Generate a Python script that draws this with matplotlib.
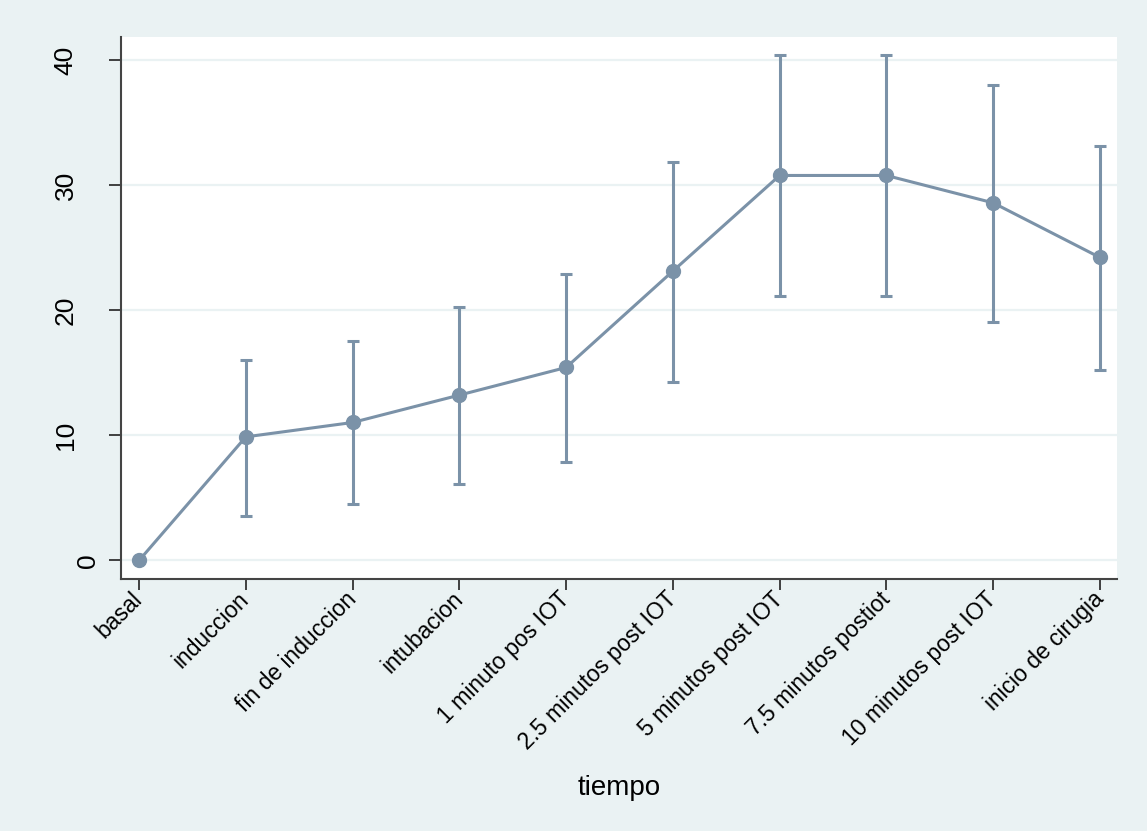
import matplotlib
matplotlib.use("Agg")
import matplotlib.pyplot as plt
import matplotlib.transforms as mtransforms
import numpy as np

plt.rcParams['font.family'] = ['Liberation Sans', 'DejaVu Sans']

categories = ['basal', 'induccion', 'fin de induccion', 'intubacion',
              '1 minuto pos IOT', '2.5 minutos post IOT', '5 minutos post IOT',
              '7.5 minutos postiot', '10 minutos post IOT', 'inicio de cirugia']
mean_vals = [0, 9.89, 11.04, 13.23, 15.44, 23.15, 30.8, 30.8, 28.61, 24.24]
lower_vals = [0, 3.58, 4.48, 6.13, 7.84, 14.27, 21.12, 21.12, 19.1, 15.25]
upper_vals = [0, 16.07, 17.55, 20.29, 22.9, 31.87, 40.45, 40.45, 38.03, 33.12]
y_ticks = [0, 10, 20, 30, 40]
x_title = 'tiempo'

BG = '#EAF2F3'
COL = '#7B92A8'

fig = plt.figure(figsize=(11.47, 8.31), dpi=100, facecolor=BG)
ax = fig.add_axes([121/1147, 1 - 579/831, (1117-121)/1147, (579-36.7)/831])
ax.set_facecolor('white')

x = np.arange(len(categories))
m = np.array(mean_vals)
lo = np.array(lower_vals)
hi = np.array(upper_vals)
mask = hi > lo

for yv in y_ticks:
    ax.axhline(yv, color=BG, lw=1.6, zorder=0)

ax.errorbar(x[mask], m[mask], yerr=[m[mask] - lo[mask], hi[mask] - m[mask]],
            fmt='none', ecolor=COL, elinewidth=2.2, capsize=4.0, capthick=2.2, zorder=2)
ax.plot(x, m, color=COL, lw=2.2, zorder=3)
ax.plot(x, m, 'o', color=COL, markersize=10, zorder=4)

ax.set_xlim(-0.169, 9.16)
ax.set_ylim(-1.48, 41.9)
ax.set_yticks(y_ticks)
ax.set_yticklabels([str(v) for v in y_ticks], rotation=90, va='center', fontsize=19)
ax.set_xticks(x)
ax.set_xticklabels(categories, rotation=45, ha='right', va='center',
                   rotation_mode='anchor', fontsize=16.5)

ax.tick_params(axis='y', length=8.6, width=1.2, color='#222222', pad=22.5)
ax.tick_params(axis='x', length=8.0, width=1.2, color='#222222', pad=4)

# the "0" label sits closer to its tick in the reference
lab0 = ax.get_yticklabels()[0]
lab0.set_transform(lab0.get_transform() +
                   mtransforms.ScaledTranslation(22/100, 0, fig.dpi_scale_trans))

for s in ['top', 'right']:
    ax.spines[s].set_visible(False)
for s in ['left', 'bottom']:
    ax.spines[s].set_color('#444444')
    ax.spines[s].set_linewidth(1.5)

ax.set_xlabel(x_title, fontsize=20)
ax.xaxis.set_label_coords(0.5, (579 - 788) / (579 - 36.7))
ax.xaxis.label.set_va('center')

fig.savefig('out.png', dpi=100, facecolor=BG)
